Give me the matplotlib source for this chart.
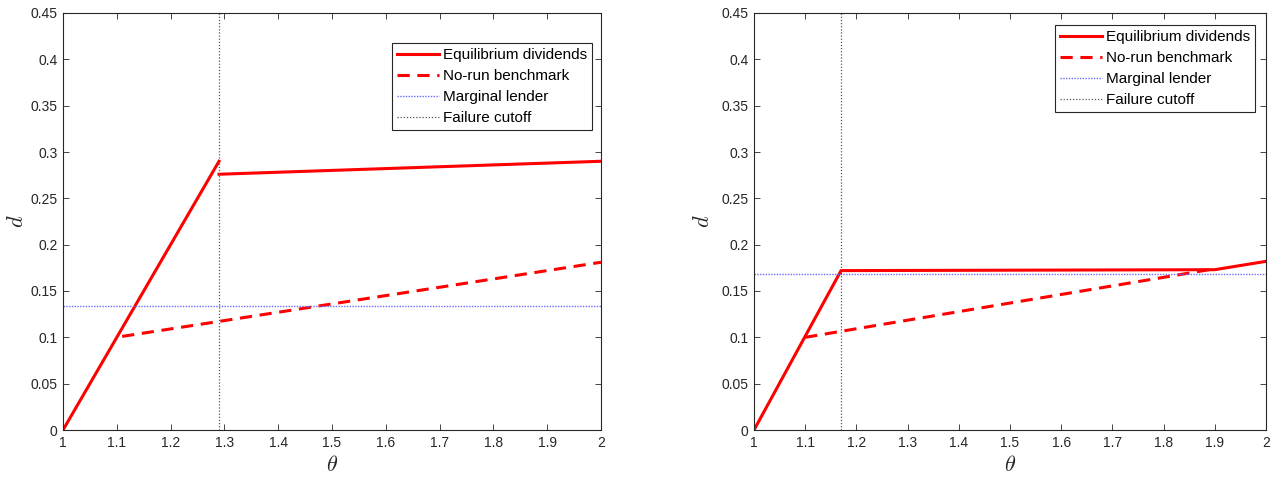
import matplotlib.pyplot as plt

plt.rcParams['font.family'] = ['Liberation Sans', 'DejaVu Sans']
plt.rcParams['mathtext.fontset'] = 'cm'

# left panel
left_eq1_x = [1.0, 1.29]
left_eq1_y = [0.0, 0.29]
left_eq2_x = [1.29, 2.0]
left_eq2_y = [0.276, 0.290]
left_norun_x = [1.11, 2.0]
left_norun_y = [0.101, 0.181]
left_lender = 0.134
left_cutoff = 1.29

# right panel
right_eq_x = [1.0, 1.17, 1.9, 2.0]
right_eq_y = [0.0, 0.172, 0.173, 0.182]
right_norun_x = [1.1, 1.9]
right_norun_y = [0.100, 0.174]
right_lender = 0.168
right_cutoff = 1.17

labels = ['Equilibrium dividends', 'No-run benchmark', 'Marginal lender', 'Failure cutoff']
xticks = [1, 1.1, 1.2, 1.3, 1.4, 1.5, 1.6, 1.7, 1.8, 1.9, 2]
xticklabels = ['1', '1.1', '1.2', '1.3', '1.4', '1.5', '1.6', '1.7', '1.8', '1.9', '2']
yticks = [0, 0.05, 0.1, 0.15, 0.2, 0.25, 0.3, 0.35, 0.4, 0.45]
yticklabels = ['0', '0.05', '0.1', '0.15', '0.2', '0.25', '0.3', '0.35', '0.4', '0.45']

fig = plt.figure(figsize=(12.73, 4.87), dpi=100)
ax1 = fig.add_axes([63/1273, 1-430/487, 538/1273, 417/487])
ax2 = fig.add_axes([754/1273, 1-430/487, 512/1273, 417/487])

red = '#ff0000'
blue = '#6b6bff'
grey = '#555555'


def style(ax, pad):
    ax.set_xlim(1, 2)
    ax.set_ylim(0, 0.45)
    ax.set_xticks(xticks)
    ax.set_xticklabels(xticklabels)
    ax.set_yticks(yticks)
    ax.set_yticklabels(yticklabels)
    ax.tick_params(direction='in', top=True, right=True, length=4, width=0.6,
                   labelsize=10, colors='#262626', pad=4)
    for s in ax.spines.values():
        s.set_color('#262626')
        s.set_linewidth(0.8)
    ax.set_xlabel(r'$\theta$', fontsize=16, color='#262626', labelpad=4)
    ax.set_ylabel(r'$d$', fontsize=16, color='#262626', labelpad=pad)


def legend(ax, handles, anchor):
    leg = ax.legend(handles, labels, loc='upper right', bbox_to_anchor=anchor,
                    bbox_transform=fig.transFigure, fontsize=11, handlelength=2.7,
                    handletextpad=0.25, borderpad=0.35, labelspacing=0.45,
                    fancybox=False, framealpha=1, borderaxespad=0)
    leg.get_frame().set_edgecolor('#262626')
    leg.get_frame().set_linewidth(0.8)


# left
l1, = ax1.plot(left_eq1_x, left_eq1_y, color=red, lw=2.2)
ax1.plot(left_eq2_x, left_eq2_y, color=red, lw=2.2)
l2, = ax1.plot(left_norun_x, left_norun_y, color=red, lw=2.2, ls=(0, (4, 2.5)))
l3 = ax1.axhline(left_lender, color=blue, lw=1, ls=(0, (1, 1)))
l4 = ax1.axvline(left_cutoff, color=grey, lw=0.9, ls=(0, (1, 1.5)))
style(ax1, 2)
legend(ax1, [l1, l2, l3, l4], (592/1273, 1-43/487))

# right
r1, = ax2.plot(right_eq_x, right_eq_y, color=red, lw=2.2)
r2, = ax2.plot(right_norun_x, right_norun_y, color=red, lw=2.2, ls=(0, (4, 2.5)))
r3 = ax2.axhline(right_lender, color=blue, lw=1, ls=(0, (1, 1)))
r4 = ax2.axvline(right_cutoff, color=grey, lw=0.9, ls=(0, (1, 1.5)))
style(ax2, 5)
legend(ax2, [r1, r2, r3, r4], (1255/1273, 1-25/487))

fig.savefig('out.png', dpi=100)
